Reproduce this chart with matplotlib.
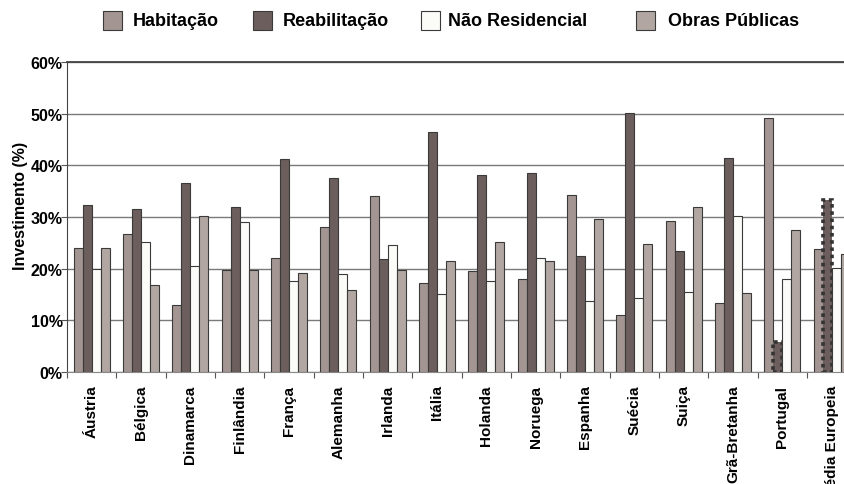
import numpy as np
import matplotlib
matplotlib.use('Agg')
import matplotlib.pyplot as plt
from matplotlib.patches import Rectangle

plt.rcParams['font.family'] = ['Liberation Sans', 'DejaVu Sans']

# Data (percent of investment)
countries = ['Áustria', 'Bélgica', 'Dinamarca', 'Finlândia', 'França', 'Alemanha',
             'Irlanda', 'Itália', 'Holanda', 'Noruega', 'Espanha', 'Suécia',
             'Suiça', 'Grã-Bretanha', 'Portugal', 'Média Europeia']
habitacao = [24.0, 26.8, 12.9, 19.8, 22.0, 28.0, 34.1, 17.2, 19.5, 18.0, 34.3, 11.1,
             29.3, 13.4, 49.1, 23.9]
reabilitacao = [32.3, 31.5, 36.6, 31.9, 41.2, 37.5, 21.8, 46.4, 38.1, 38.6, 22.5, 50.1,
                23.5, 41.4, 5.9, 33.2]
nao_residencial = [20.0, 25.1, 20.6, 29.0, 17.7, 18.9, 24.5, 15.1, 17.6, 22.1, 13.7, 14.3,
                   15.5, 30.1, 18.0, 20.1]
obras_publicas = [24.0, 16.8, 30.1, 19.8, 19.2, 15.8, 19.7, 21.5, 25.1, 21.5, 29.7, 24.7,
                  31.9, 15.2, 27.4, 22.8]
yticks = [0, 10, 20, 30, 40, 50, 60]

series = [
    ('Habitação', habitacao, '#a39692'),
    ('Reabilitação', reabilitacao, '#6b5e5c'),
    ('Não Residencial', nao_residencial, '#fbfbf8'),
    ('Obras Públicas', obras_publicas, '#b1a6a2'),
]
highlight = ['Portugal', 'Média Europeia']   # dotted outline on Reabilitação

W, H = 845, 485
fig = plt.figure(figsize=(W / 100, H / 100), dpi=100)
fig.patch.set_facecolor('white')

# axes extends past the right edge, like the original crop
ax = fig.add_axes([67 / W, 1 - 373 / H, 789.3 / W, 310 / H])

x = np.arange(len(countries))
bw = 0.182
containers = []
for i, (name, vals, col) in enumerate(series):
    c = ax.bar(x + (i - 1.5) * bw, vals, bw, color=col, edgecolor='#3a3a3a',
               linewidth=0.8, zorder=3)
    containers.append(c)

for name in highlight:
    p = containers[1][countries.index(name)]
    p.set_linestyle((0, (1, 1)))
    p.set_linewidth(2.6)
    p.set_edgecolor('#333333')

ax.set_xlim(-0.5, len(countries) - 0.5)
ax.set_ylim(0, 60)
ax.set_yticks(yticks)
ax.set_yticklabels([f'{v}%' for v in yticks], fontsize=11.5, fontweight='bold')
ax.yaxis.grid(True, color='#7a7a7a', linewidth=1.0)
ax.set_axisbelow(True)

# group boundary ticks on x, labels in the middle
ax.set_xticks(np.arange(len(countries) + 1) - 0.5)
ax.set_xticklabels([])
ax.set_xticks(x, minor=True)
ax.set_xticklabels(countries, minor=True, rotation=90, fontsize=11,
                   fontweight='bold', va='top', ha='center')
ax.tick_params(axis='x', which='minor', length=0, pad=9)
ax.tick_params(axis='x', which='major', length=4, color='#555555', width=0.8)
ax.tick_params(axis='y', length=4, color='#555555', width=0.8, pad=-1)

ax.set_ylabel('Investimento (%)', fontsize=11.5, fontweight='bold')
ax.yaxis.set_label_coords(-0.05, 0.54)

ax.spines['right'].set_visible(False)
ax.spines['left'].set_color('#444444')
ax.spines['top'].set_color('#444444')
ax.spines['top'].set_linewidth(1.3)
ax.spines['bottom'].set_color('#888888')

# legend across the top, laid out by hand
leg_patch_x = [103, 253, 421, 636]
leg_text_x = [133, 283, 448, 668]
for (name, vals, col), px, tx in zip(series, leg_patch_x, leg_text_x):
    fig.add_artist(Rectangle((px / W, 1 - 31 / H), 19 / W, 19 / H,
                             transform=fig.transFigure, facecolor=col,
                             edgecolor='#3a3a3a', linewidth=0.8))
    fig.text(tx / W, 1 - 22 / H, name, fontsize=13, fontweight='bold',
             va='center', ha='left')

fig.savefig('out.png', dpi=100)
